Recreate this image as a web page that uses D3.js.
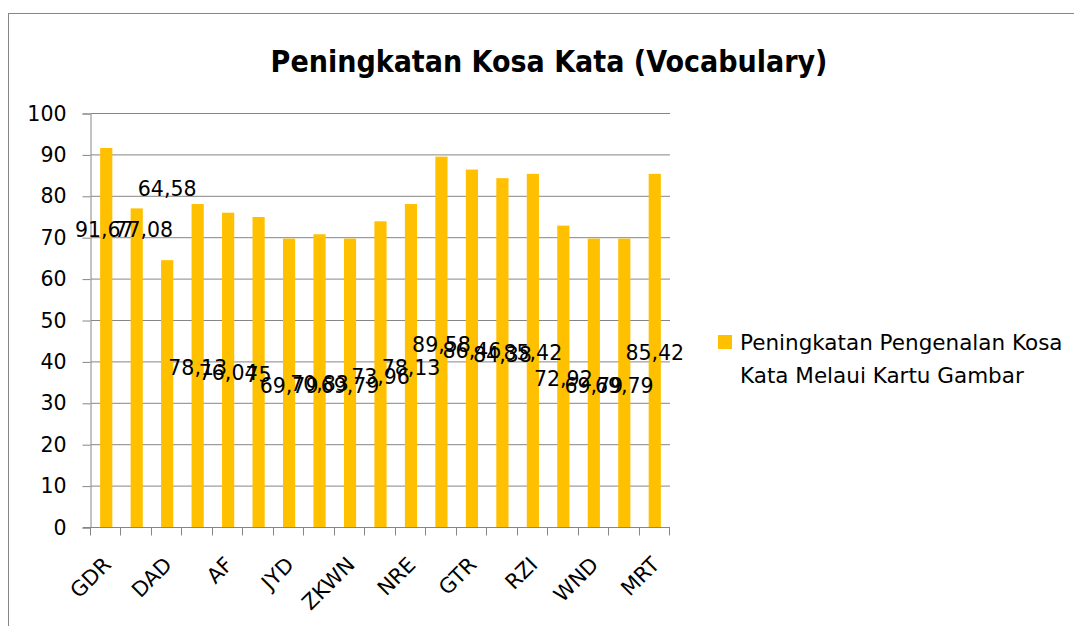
<!DOCTYPE html>
<html>
<head>
<meta charset="utf-8">
<script src="https://cdn.jsdelivr.net/npm/d3@7"></script>
<style>
  body { margin: 0; background: #fff; }
  text { font-family: "DejaVu Sans", sans-serif; fill: #000; }
</style>
</head>
<body>
<script>
// categories (only every other name is printed on the axis in the original)
var categories = ["GDR", "", "DAD", "", "AF", "", "JYD", "", "ZKWN", "", "NRE", "", "GTR", "", "RZI", "", "WND", "", "MRT"];
var values = [91.67, 77.08, 64.58, 78.13, 76.04, 75, 69.79, 70.83, 69.79, 73.96, 78.13, 89.58, 86.46, 84.38, 85.42, 72.92, 69.79, 69.79, 85.42];
var yTicks = [0, 10, 20, 30, 40, 50, 60, 70, 80, 90, 100];
var seriesName = ["Peningkatan Pengenalan Kosa", "Kata Melaui Kartu Gambar"];
var title = "Peningkatan Kosa Kata (Vocabulary)";

// labels that were dragged away from the bar centre in the source chart
var movedLabels = [
  { i: 0, y: 72.0, dx: -2 },
  { i: 1, y: 72.0, dx: 7 },
  { i: 2, y: 81.7, dx: 0 }
];

var W = 1074, H = 626;
var plotL = 91, plotR = 670, plotT = 113.5, plotB = 527.5;

var svg = d3.select("body").append("svg")
  .attr("width", W)
  .attr("height", H);

// chart frame
svg.append("rect")
  .attr("x", 8.5).attr("y", 13.5)
  .attr("width", 1200).attr("height", 800)
  .attr("fill", "none")
  .attr("stroke", "#868686");

svg.append("text")
  .attr("x", 549).attr("y", 72)
  .attr("text-anchor", "middle")
  .style("font-family", "'DejaVu Sans Condensed', 'DejaVu Sans', sans-serif")
  .style("font-weight", "bold")
  .style("font-size", "30px")
  .text(title);

var x = d3.scaleBand()
  .domain(d3.range(values.length))
  .range([plotL, plotR])
  .paddingInner(0)
  .paddingOuter(0);

var y = d3.scaleLinear()
  .domain([0, 100])
  .range([plotB, plotT]);

// gridlines
svg.append("g")
  .selectAll("line")
  .data(yTicks.filter(function (d) { return d > 0; }))
  .join("line")
  .attr("x1", plotL).attr("x2", plotR)
  .attr("y1", function (d) { return y(d); })
  .attr("y2", function (d) { return y(d); })
  .attr("stroke", "#868686");

// bars
var bw = x.bandwidth() / 2.5;
svg.append("g")
  .selectAll("rect")
  .data(values)
  .join("rect")
  .attr("x", function (d, i) { return x(i) + (x.bandwidth() - bw) / 2; })
  .attr("y", function (d) { return y(d); })
  .attr("width", bw)
  .attr("height", function (d) { return y(0) - y(d); })
  .attr("fill", "#FFC000");

// y axis
var yAxis = svg.append("g")
  .attr("transform", "translate(" + (plotL - 0.5) + ",0)")
  .call(d3.axisLeft(y).tickValues(yTicks).tickSize(8).tickPadding(16));
yAxis.selectAll("text").style("font-size", "20.5px").style("font-family", "'DejaVu Sans', sans-serif");
yAxis.selectAll("line, path").attr("stroke", "#868686");

// x axis with ticks on band edges
var xAxis = svg.append("g");
xAxis.append("line")
  .attr("x1", plotL - 8).attr("x2", plotR)
  .attr("y1", plotB).attr("y2", plotB)
  .attr("stroke", "#868686");
xAxis.selectAll("line.tk")
  .data(d3.range(values.length + 1))
  .join("line")
  .attr("class", "tk")
  .attr("x1", function (i) { return Math.round(plotL + i * x.step()) - 0.5; })
  .attr("x2", function (i) { return Math.round(plotL + i * x.step()) - 0.5; })
  .attr("y1", plotB).attr("y2", plotB + 8)
  .attr("stroke", "#868686");

xAxis.selectAll("text")
  .data(categories)
  .join("text")
  .attr("text-anchor", "end")
  .attr("transform", function (d, i) {
    return "translate(" + (x(i) + x.bandwidth() / 2 + 6) + ",566) rotate(-45)";
  })
  .style("font-size", "21px")
  .text(function (d) { return d; });

// data labels (centre of bar, except the moved ones)
function fmt(v) { return String(v).replace(".", ","); }
svg.append("g")
  .selectAll("text")
  .data(values)
  .join("text")
  .attr("text-anchor", "middle")
  .attr("dy", "0.35em")
  .attr("x", function (d, i) {
    var m = movedLabels.find(function (o) { return o.i === i; });
    return x(i) + x.bandwidth() / 2 + (m ? m.dx : 0);
  })
  .attr("y", function (d, i) {
    var m = movedLabels.find(function (o) { return o.i === i; });
    return m ? y(m.y) : y(d / 2 - 0.6);
  })
  .style("font-size", "20.5px")
  .text(function (d) { return fmt(d); });

// legend
var lg = svg.append("g");
lg.append("rect")
  .attr("x", 718).attr("y", 335)
  .attr("width", 14).attr("height", 14)
  .attr("fill", "#FFC000");
lg.selectAll("text")
  .data(seriesName)
  .join("text")
  .attr("x", 740)
  .attr("y", function (d, i) { return 350 + i * 33; })
  .style("font-size", "21.5px")
  .text(function (d) { return d; });
</script>
</body>
</html>
